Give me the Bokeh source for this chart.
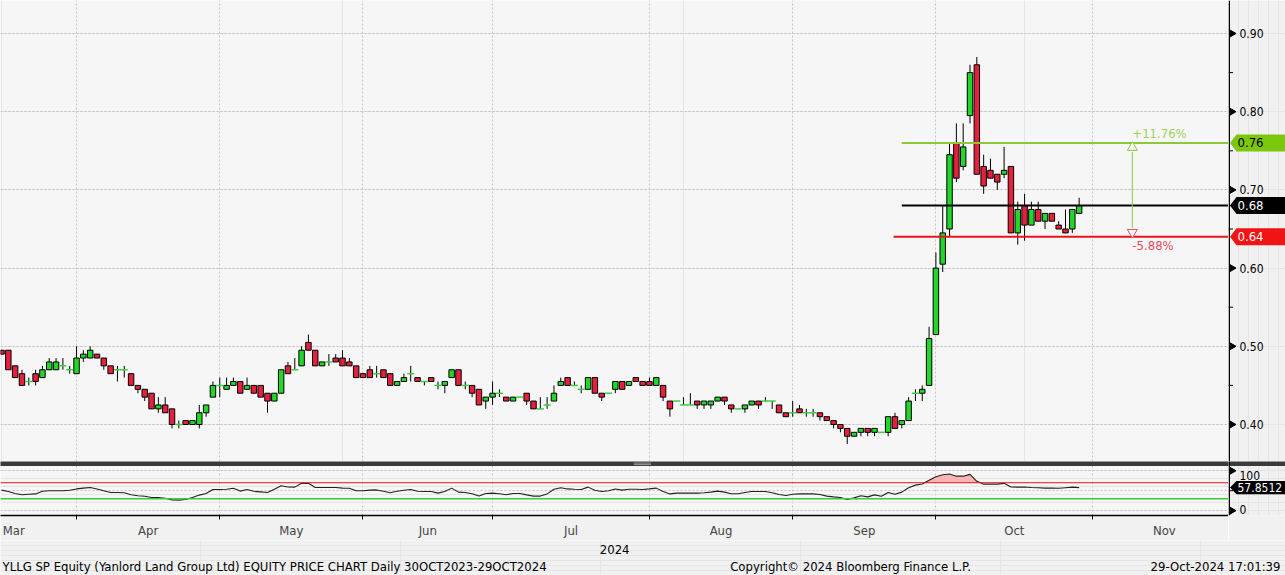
from bokeh.plotting import figure
from bokeh.models import FixedTicker, Span, Range1d, Grid
from bokeh.layouts import column, row
from bokeh.core.properties import value
from bokeh.embed import file_html
from bokeh.resources import INLINE

# ---------------- data (trading-day index 0 = 13-Mar-2024 ... 158 = 29-Oct-2024) -------------
opens = [.495, .495, .475, .465, .455, .465, .46, .47, .47, .475,
         .47, .465, .485, .485, .49, .485, .475, .47, .47, .465,
         .45, .445, .44, .42, .425, .42, .40, .405, .40, .40,
         .415, .435, .45, .445, .45, .455, .445, .45, .45, .44,
         .43, .44, .475, .47, .475, .505, .495, .475, .48, .485,
         .485, .48, .475, .465, .47, .465, .47, .465, .45, .455,
         .465, .46, .455, .46, .45, .45, .46, .47, .45, .45,
         .445, .43, .435, .44, .435, .43, .435, .44, .43, .42,
         .425, .43, .45, .46, .45, .445, .445, .46, .44, .44,
         .445, .455, .45, .46, .455, .455, .45, .45, .43, .43,
         .425, .425, .43, .425, .425, .43, .435, .425, .42, .42,
         .425, .43, .43, .43, .425, .415, .415, .42, .415, .415,
         .415, .41, .405, .40, .395, .385, .39, .395, .39, .39,
         .39, .41, .40, .405, .44, .44, .45, .515, .605, .65,
         .76, .73, .795, .86, .73, .725, .72, .72, .73, .645,
         .68, .655, .675, .66, .67, .655, .65, .65, .67]
closes = [.49, .47, .46, .45, .455, .455, .47, .48, .48, .475,
          .47, .485, .49, .495, .485, .475, .465, .47, .47, .45,
          .445, .435, .42, .425, .415, .40, .40, .40, .405, .415,
          .425, .45, .45, .45, .455, .44, .45, .44, .435, .43,
          .44, .47, .465, .47, .495, .495, .475, .48, .48, .48,
          .475, .475, .46, .46, .46, .465, .46, .45, .455, .46,
          .465, .455, .455, .455, .45, .455, .47, .45, .45, .44,
          .425, .435, .44, .44, .43, .435, .435, .43, .42, .42,
          .425, .44, .455, .45, .45, .445, .46, .44, .435, .44,
          .455, .445, .455, .455, .45, .45, .46, .435, .42, .43,
          .425, .425, .425, .43, .43, .435, .43, .42, .42, .425,
          .43, .425, .43, .43, .415, .41, .415, .415, .415, .415,
          .41, .405, .40, .395, .385, .39, .395, .39, .395, .39,
          .41, .395, .405, .43, .44, .445, .51, .60, .645, .745,
          .715, .755, .85, .72, .705, .715, .71, .725, .645, .675,
          .655, .675, .66, .67, .66, .65, .645, .675, .68]
highs = [.495, .495, .475, .47, .46, .47, .475, .485, .485, .485,
         .475, .50, .495, .50, .49, .485, .475, .475, .475, .465,
         .45, .445, .44, .435, .435, .42, .405, .405, .405, .425,
         .425, .455, .46, .46, .46, .455, .46, .45, .45, .44,
         .44, .47, .48, .485, .50, .515, .495, .48, .49, .49,
         .495, .485, .475, .465, .475, .475, .47, .465, .455, .465,
         .475, .46, .455, .46, .455, .455, .47, .47, .455, .45,
         .445, .435, .455, .445, .435, .435, .435, .44, .43, .435,
         .435, .45, .46, .46, .455, .45, .46, .46, .44, .44,
         .455, .455, .455, .46, .455, .46, .46, .45, .43, .43,
         .435, .44, .43, .43, .43, .435, .435, .425, .42, .425,
         .43, .43, .435, .43, .425, .415, .43, .425, .42, .42,
         .415, .41, .405, .40, .395, .39, .395, .395, .395, .39,
         .41, .415, .405, .435, .445, .45, .525, .62, .68, .76,
         .785, .785, .86, .87, .745, .74, .72, .755, .73, .685,
         .695, .685, .685, .67, .67, .66, .675, .675, .69]
lows = [.49, .47, .46, .45, .45, .45, .46, .47, .47, .47,
        .465, .465, .48, .485, .485, .47, .465, .455, .46, .45,
        .44, .43, .42, .415, .415, .395, .395, .40, .40, .395,
        .41, .435, .435, .445, .45, .44, .445, .44, .435, .415,
        .43, .44, .465, .47, .475, .495, .475, .475, .475, .48,
        .475, .475, .46, .46, .46, .46, .46, .45, .45, .455,
        .455, .455, .45, .455, .445, .44, .46, .45, .445, .435,
        .425, .42, .425, .435, .43, .43, .435, .425, .42, .42,
        .42, .43, .45, .45, .45, .44, .445, .44, .43, .44,
        .44, .445, .45, .455, .45, .45, .45, .43, .41, .43,
        .425, .425, .42, .42, .42, .43, .425, .415, .42, .415,
        .425, .42, .43, .42, .415, .41, .41, .415, .41, .41,
        .405, .405, .395, .39, .375, .385, .385, .385, .385, .39,
        .385, .395, .395, .405, .43, .43, .45, .515, .595, .64,
        .71, .725, .785, .72, .695, .715, .70, .715, .645, .63,
        .635, .655, .66, .65, .66, .65, .645, .645, .67]
rsi = [51.5, 48, 43, 40, 41, 42, 48.5, 50, 50, 50,
       51, 54.5, 56.5, 58, 54.5, 50, 45.5, 45.5, 45, 40,
       37.5, 36, 33, 33, 31, 27, 26.5, 28, 33, 39,
       43, 53, 53, 53.5, 56, 49, 53, 48.5, 47, 45.5,
       53.5, 62.5, 59.5, 59, 68.5, 68.5, 58, 58, 58, 58,
       56.5, 56, 50, 50, 51.5, 52, 48.5, 45, 48.5, 51,
       53, 48.5, 48, 48, 44, 48, 56.5, 46.5, 45.5, 42.5,
       36.5, 43, 44, 42.5, 40, 43, 43, 39.5, 36.5, 36.5,
       42, 53.5, 57.5, 54.5, 53.5, 53, 59, 51, 48, 50,
       54.5, 51.5, 53.5, 53.5, 53, 54.5, 56.5, 48, 42, 44,
       44, 44, 44, 45, 46.5, 49, 46.5, 42.5, 42.5, 45.5,
       48, 48, 48, 45, 40.5, 38, 41, 42, 42, 42,
       40.5, 36.5, 34.5, 33, 28, 32, 37.5, 34.5, 39.5, 36,
       45.5, 41, 46.5, 57.5, 64, 67, 76, 85, 90, 92,
       86.5, 86.5, 91, 73.5, 66.5, 66.5, 66.5, 68.5, 59.5, 59,
       59.5, 58, 57.5, 56.5, 56.5, 56, 57.5, 59, 57.8512]

month_names = ["Mar", "Apr", "May", "Jun", "Jul", "Aug", "Sep", "Oct", "Nov"]
month_label_pos = [1.8, 21.5, 42.5, 62.5, 83.5, 105.5, 126.5, 148.5, 170.5]
month_bounds = [11, 32, 53, 72, 95, 116, 137, 160]
year_label = "2024"
year_pos = 89.9

price_ticks = [0.40, 0.50, 0.60, 0.70, 0.80, 0.90]
price_minor = [0.45, 0.55, 0.65, 0.75, 0.85]
price_tick_labels = ["0.40", "0.50", "0.60", "0.70", "0.80", "0.90"]
rsi_ticks = [0, 100]
rsi_minor = [50]
rsi_tick_labels = ["0", "100"]

level_values = [0.76, 0.68, 0.64]
level_start = [132, 132, 130.8]
arrow_x = 165.8
rsi_upper, rsi_lower = 70, 30

assert len(opens) == len(closes) == len(highs) == len(lows) == len(rsi) == 159
idx = list(range(len(closes)))

# ---------------- styling / sizes ----------------
W = 1285
RB = 57
FR = W - RB
H1 = 461
BAND_H = 5
RSI_FRAME = 56
XAX_H = 18
H2 = BAND_H + RSI_FRAME + XAX_H
H3 = 575 - H1 - H2
BG = "#f6f6f6"
BORDER = "#f1f1f1"
BANDC = "#3b3b3b"
GRID = "#c4c4c4"
UP = "#22d62a"
DOWN = "#e5203c"
GREENLINE = "#8cc83a"
GREENBOX = "#7cc70d"
REDLINE = "#e8141c"
FONT_S = "DejaVu Sans Condensed, Liberation Sans Narrow, Roboto"
FONT = value(FONT_S)

x_range = Range1d(-0.147, 179.9)
y_price = Range1d(0.3527, 0.9422)
rsi_top = 112.2
rsi_bottom = -12.2
rsi_upp = (rsi_top - rsi_bottom) / RSI_FRAME
y_rsi = Range1d(rsi_bottom, rsi_top + BAND_H * rsi_upp)   # top 5px hold the separator band


def base_fig(width, height, xr, yr, **kw):
    opts = dict(width=width, height=height, x_range=xr, y_range=yr,
                x_axis_location=None, y_axis_location=None, toolbar_location=None,
                output_backend="svg", min_border=0, background_fill_color=BG,
                border_fill_color=BORDER, outline_line_color=None)
    opts.update(kw)
    return figure(**opts)


# ---------------- main price panel ----------------
p1 = base_fig(FR, H1, x_range, y_price)
p1.add_layout(Grid(dimension=1, ticker=FixedTicker(ticks=price_ticks),
                   grid_line_color=GRID, grid_line_dash="2 2"))
p1.add_layout(Grid(dimension=0, ticker=FixedTicker(ticks=month_bounds),
                   grid_line_color=GRID, grid_line_dash="2 2"))

up = [i for i in idx if closes[i] > opens[i]]
dn = [i for i in idx if closes[i] < opens[i]]
dj = [i for i in idx if closes[i] == opens[i]]

p1.segment(x0=idx, y0=lows, x1=idx, y1=highs, line_color="black", line_width=1)
p1.vbar(x=up, width=0.8, bottom=[opens[i] for i in up], top=[closes[i] for i in up],
        fill_color=UP, line_color="black", line_width=1)
p1.vbar(x=dn, width=0.8, bottom=[closes[i] for i in dn], top=[opens[i] for i in dn],
        fill_color=DOWN, line_color="black", line_width=1)
p1.scatter(x=dj, y=[closes[i] for i in dj], marker="dash", size=7,
           line_color="#3ccf3c", line_width=1.5)

level_colors = [GREENLINE, "black", REDLINE]
for lv, st, col in zip(level_values, level_start, level_colors):
    p1.segment(x0=[st], y0=[lv], x1=[x_range.end + 5], y1=[lv], line_color=col, line_width=2)

px_per_unit_y = H1 / (y_price.end - y_price.start)
tri = 9 / px_per_unit_y
p1.segment(x0=[arrow_x], y0=[level_values[0] - tri], x1=[arrow_x], y1=[level_values[2] + tri],
           line_color=GREENLINE, line_width=1)
p1.scatter(x=[arrow_x], y=[level_values[0] - tri / 2], marker="triangle", size=10,
           line_color=GREENLINE, fill_color=BG, line_width=1)
p1.scatter(x=[arrow_x], y=[level_values[2] + tri / 2], marker="inverted_triangle", size=10,
           line_color="#e85060", fill_color=BG, line_width=1)
up_pct = (level_values[0] / level_values[1] - 1) * 100
dn_pct = (level_values[2] / level_values[1] - 1) * 100
p1.text(x=[arrow_x], y=[level_values[0] + 0.003], text=["+%.2f%%" % up_pct],
        text_color="#9fd05a", text_font=FONT, text_font_size="13px",
        text_align="left", text_baseline="bottom")
p1.text(x=[arrow_x], y=[level_values[2] - 0.002], text=["%.2f%%" % dn_pct],
        text_color="#e44a5a", text_font=FONT, text_font_size="13px",
        text_align="left", text_baseline="top")


# ---------------- value-axis panels (ticks, labels, price tags) ----------------
def axis_panel(height, yr, ticks, minor, labels, label_pos, tags, tag_half_px,
               tag_font="13px", mbb=0, band_from=None):
    f = base_fig(RB, height, Range1d(0, RB), yr, background_fill_color=BORDER,
                 min_border_bottom=mbb)
    fh = height - mbb
    upx = (yr.end - yr.start) / fh
    f.add_layout(Span(location=0.75, dimension="height", line_color="black", line_width=1.5))
    f.scatter(x=[3.5] * len(ticks), y=ticks, marker="triangle", angle=-1.5708, size=7,
              fill_color="black", line_color="black")
    f.segment(x0=[0] * len(minor), y0=minor, x1=[4.5] * len(minor), y1=minor,
              line_color="black", line_width=1)
    f.text(x=[11] * len(labels), y=label_pos, text=labels, text_font=FONT,
           text_font_size="12px", text_color="black", text_baseline="middle",
           text_align="left")
    h = tag_half_px * upx
    for yv, txt, fill, tcol in tags:
        f.patch(x=[1.5, 8, RB, RB, 8], y=[yv, yv + h, yv + h, yv - h, yv - h],
                fill_color=fill, line_color=None)
        f.text(x=[9], y=[yv], text=[txt], text_font=FONT, text_font_size=tag_font,
               text_color=tcol, text_baseline="middle", text_align="left")
    if band_from is not None:
        f.quad(left=[-1], right=[RB + 1], bottom=[band_from], top=[yr.end + 10],
               fill_color=BANDC, line_color=None)
    return f


pt1 = axis_panel(H1, y_price, price_ticks, price_minor, price_tick_labels, price_ticks,
                 [(level_values[0], "%.2f" % level_values[0], GREENBOX, "black"),
                  (level_values[1], "%.2f" % level_values[1], "black", "white"),
                  (level_values[2], "%.2f" % level_values[2], "#f01414", "white")],
                 8.5)

# ---------------- RSI panel (with separator band on top) ----------------
p2 = base_fig(FR, H2, x_range, y_rsi, x_axis_location="below", min_border_bottom=XAX_H)
p2.varea(x=idx, y1=rsi_upper, y2=[max(r, rsi_upper) for r in rsi], fill_color="#f6b4b4")
p2.add_layout(Grid(dimension=1, ticker=FixedTicker(ticks=[0, 50, 100]),
                   grid_line_color=GRID, grid_line_dash="2 2"))
p2.add_layout(Span(location=rsi_upper, dimension="width", line_color=REDLINE, line_width=1))
p2.add_layout(Span(location=rsi_lower, dimension="width", line_color="#36cc36", line_width=1.5))
p2.line(x=idx, y=rsi, line_color="#222222", line_width=1.1)
p2.quad(left=[x_range.start - 2], right=[x_range.end + 2], bottom=[rsi_top],
        top=[y_rsi.end + 10], fill_color=BANDC, line_color=None)
p2.segment(x0=[92.7, 92.7], y0=[rsi_top + 1.5 * rsi_upp, rsi_top + 3.2 * rsi_upp],
           x1=[95.2, 95.2], y1=[rsi_top + 1.5 * rsi_upp, rsi_top + 3.2 * rsi_upp],
           line_color="#9a9a9a", line_width=1)

xa = p2.xaxis[0]
xa.ticker = FixedTicker(ticks=month_label_pos, minor_ticks=month_bounds)
xa.major_label_overrides = {pos: name for pos, name in zip(month_label_pos, month_names)}
xa.axis_line_color = "black"
xa.axis_line_width = 1.5
xa.major_tick_line_color = None
xa.major_tick_out = 0
xa.major_tick_in = 0
xa.minor_tick_out = 4
xa.minor_tick_in = 0
xa.minor_tick_line_color = "black"
xa.major_label_text_font = FONT_S
xa.major_label_text_font_size = "13px"
xa.major_label_standoff = 3
p2.xgrid.ticker = FixedTicker(ticks=month_bounds)
p2.xgrid.grid_line_color = GRID
p2.xgrid.grid_line_dash = "2 2"

pt2 = axis_panel(H2, y_rsi, rsi_ticks, rsi_minor, rsi_tick_labels, [4, 88],
                 [(rsi[-1], "%.4f" % rsi[-1], "black", "white")], 7.5,
                 tag_font="12px", mbb=XAX_H, band_from=rsi_top)

# ---------------- footer ----------------
p3 = base_fig(W, H3, Range1d(0, W), Range1d(0, H3), background_fill_color=BORDER)
year_px = (year_pos - x_range.start) / (x_range.end - x_range.start) * FR
p3.text(x=[year_px], y=[H3 - 9], text=[year_label], text_font=FONT, text_font_size="13px",
        text_align="center", text_baseline="middle", text_color="black")
p3.text(x=[2], y=[9], text=["YLLG SP Equity (Yanlord Land Group Ltd) EQUITY PRICE CHART  Daily 30OCT2023-29OCT2024"],
        text_font=FONT, text_font_size="13px", text_align="left", text_baseline="middle",
        text_color="black")
p3.text(x=[850], y=[9], text=["Copyright\u00a9 2024 Bloomberg Finance L.P."],
        text_font=FONT, text_font_size="13px", text_align="center", text_baseline="middle",
        text_color="black")
p3.text(x=[W - 5], y=[9], text=["29-Oct-2024 17:01:39"],
        text_font=FONT, text_font_size="13px", text_align="right", text_baseline="middle",
        text_color="black")

layout = column(row(p1, pt1, spacing=0), row(p2, pt2, spacing=0), p3, spacing=0)
open("out.html", "w").write(file_html(layout, INLINE))
